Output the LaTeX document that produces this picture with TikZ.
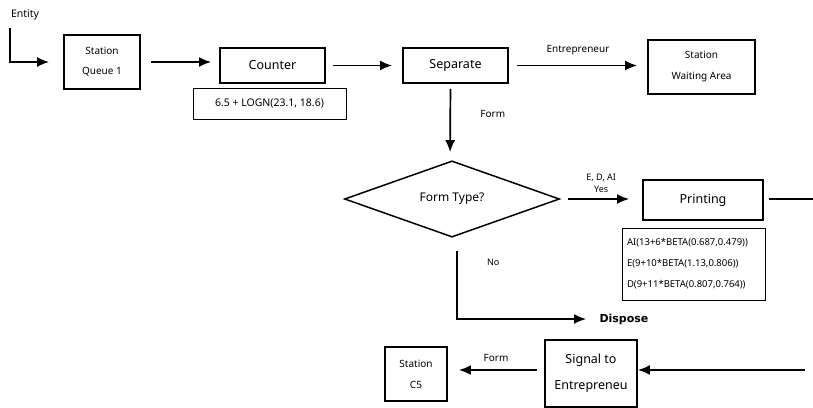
\documentclass[tikz,border=0pt]{standalone}
\usepackage{fontspec}
\setmainfont{Noto Sans}
\newfontfamily\strongfont{DejaVu Sans}
\usetikzlibrary{arrows.meta, shapes.geometric, calc, positioning}

\begin{document}
\begin{tikzpicture}[x=1pt, y=-1pt,
        box/.style={draw, line width=1.9pt, inner sep=0pt, align=center},
        note/.style={draw, line width=0.8pt, inner sep=0pt},
        flow/.style={line width=1.7pt, -{Latex[length=12pt, width=10pt]}},
        small/.style={font=\fontsize{9}{12}\selectfont}]
                        \useasboundingbox (0,0) rectangle (813,407);
                        \node[font=\fontsize{10.5}{12}\selectfont] (entity) at (25, 15) {Entity};
                        \coordinate (start) at (10, 28);
                        \node[box, minimum width=76, minimum height=54, font=\fontsize{10}{20}\selectfont] (queue) at (102, 62) {Station\\Queue 1};
                        \node[box, minimum width=105, minimum height=35, font=\fontsize{12.5}{15}\selectfont] (counter) at (272.5, 65.5) {Counter};
                        \node[note, minimum width=153, minimum height=31, font=\fontsize{10.5}{12}\selectfont] (logn) at (269.5, 103.5) {6.5 + LOGN(23.1, 18.6)};
                        \node[box, minimum width=105, minimum height=35, font=\fontsize{12.5}{15}\selectfont] (separate) at (455.5, 65.5) {Separate};
                        \node[box, minimum width=107, minimum height=54, font=\fontsize{10}{21}\selectfont] (waiting) at (701.5, 67) {Station\\Waiting Area};
                        \node[diamond, draw, line width=1.5pt, minimum width=215, minimum height=72, inner sep=0pt, font=\fontsize{12}{15}\selectfont] (formtype) at (452, 199) {Form Type?};
                        \node[box, minimum width=120, minimum height=40, font=\fontsize{12.5}{15}\selectfont] (printing) at (703, 200) {Printing};
                        \node[note, minimum width=143, minimum height=72, align=left, text width=133, inner sep=5pt, font=\fontsize{9.5}{21}\selectfont] (beta) at (693.5, 264) {AI(13+6*BETA(0.687,0.479))\\E(9+10*BETA(1.13,0.806))\\D(9+11*BETA(0.807,0.764))};
                        \node[font={\strongfont\fontsize{11}{14}\selectfont\bfseries}, anchor=west] (dispose) at (596, 319) {Dispose};
                        \node[box, minimum width=62, minimum height=54, font=\fontsize{10}{21}\selectfont] (c5) at (416, 374) {Station\\C5};
                        \node[box, minimum width=92, minimum height=67, font=\fontsize{12.5}{26}\selectfont] (signal) at (591, 373.5) {Signal to\\Entrepreneu};
                        \coordinate (printout) at (813, 199);
                        \coordinate (signalin) at (813, 370);

                        % main line
                        \draw[flow, line width=1.4pt, shorten >=14pt] (start) |- (queue.west);
                        \draw[flow, shorten <=10pt, shorten >=8pt] (queue.east) -- (counter.west |- queue.east);
                        \draw[flow, shorten <=7pt, shorten >=10pt] (counter) -- (separate);
                        \draw[flow, shorten <=8pt, shorten >=10pt] (separate.east) -- (waiting.west |- separate.east)
                            node[midway, above=6pt, font=\fontsize{10}{12}\selectfont] (entlabel) {Entrepreneur};
                        \draw[flow, shorten <=5pt, shorten >=8pt] ($(separate.south)+(-5,0)$) -- ($(formtype.north)+(-2,0)$)
                            node[pos=0.4, right=26pt, font=\fontsize{10}{12}\selectfont] (formlabel) {Form};

                        % form type branches
                        \draw[flow, shorten <=8pt, shorten >=13pt] (formtype.east) -- (printing.west |- formtype.east)
                            node[midway, above=2pt, small, align=center] (yeslabel) {E, D, AI\\Yes};
                        \draw[line width=1.4pt, shorten <=5pt] (printing.east |- printout) -- (printout);
                        \draw[flow, line width=1.4pt, shorten <=13pt, shorten >=10pt] ($(formtype.south)+(5,0)$) |- (dispose.west)
                            node[pos=0.15, right=26pt, small] (nolabel) {No};

                        % signal back
                        \draw[flow, shorten <=8pt] (signalin) -- (signal.east |- signalin);
                        \draw[flow, shorten <=7pt, shorten >=11pt] (signal.west |- signalin) -- (c5.east |- signalin)
                            node[midway, above=4pt, font=\fontsize{10}{12}\selectfont] (formlabel2) {Form};
                    \end{tikzpicture}
\end{document}
